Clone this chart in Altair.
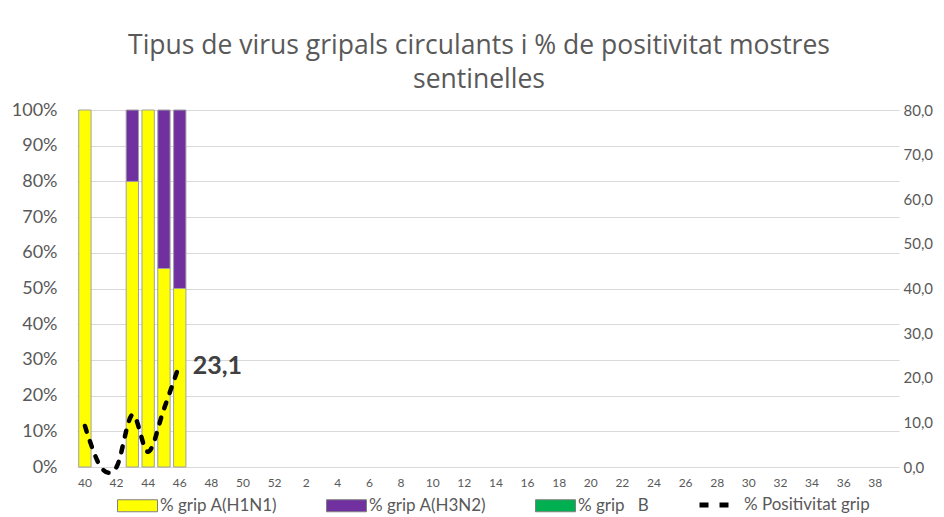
import altair as alt
import pandas as pd

weeks = ["40", "41", "42", "43", "44", "45", "46", "47", "48", "49", "50", "51", "52",
         "1", "2", "3", "4", "5", "6", "7", "8", "9", "10", "11", "12", "13", "14", "15",
         "16", "17", "18", "19", "20", "21", "22", "23", "24", "25", "26", "27", "28",
         "29", "30", "31", "32", "33", "34", "35", "36", "37", "38", "39"]
tick_weeks = ["40", "42", "44", "46", "48", "50", "52", "2", "4", "6", "8", "10", "12",
              "14", "16", "18", "20", "22", "24", "26", "28", "30", "32", "34", "36", "38"]

data_weeks = ["40", "41", "42", "43", "44", "45", "46"]
h1n1 = [100, 0, 0, 80, 100, 55.6, 50]
h3n2 = [0, 0, 0, 20, 0, 44.4, 50]
grip_b = [0, 0, 0, 0, 0, 0, 0]
positivitat = [9.2, 0, 0, 11.7, 3.4, 13.0, 23.1]

series = ["% grip A(H1N1)", "% grip A(H3N2)", "% grip\u00a0\u00a0\u00a0B"]
colors = ["#FFFF00", "#7030A0", "#00B050"]
line_name = "% Positivitat grip"
title_lines = ["Tipus de virus gripals circulants i % de positivitat mostres", "sentinelles"]

rows = []
for i, w in enumerate(data_weeks):
    for k, vals in enumerate([h1n1, h3n2, grip_b]):
        if vals[i] > 0:
            rows.append({"week": w, "serie": series[k], "value": vals[i], "ord": k})
bar_df = pd.DataFrame(rows)

line_df = pd.DataFrame({
    "week": data_weeks,
    "pos": positivitat,
    "serie": [line_name] * len(data_weeks),
    "label": [f"{v:.1f}".replace(".", ",") for v in positivitat],
})

xscale = alt.Scale(domain=weeks, paddingInner=0.22, paddingOuter=0.11)
xaxis = alt.Axis(values=tick_weeks, title=None, labelAngle=0, labelFontSize=12,
                 labelPadding=10, ticks=False, domain=False, grid=False,
                 labelColor="#595959")

bars = alt.Chart(bar_df).mark_bar(stroke="#A0A0A0", strokeWidth=1).encode(
    x=alt.X("week:N", scale=xscale, axis=xaxis),
    y=alt.Y("value:Q", stack="zero",
            scale=alt.Scale(domain=[0, 100], nice=False),
            axis=alt.Axis(values=[0, 10, 20, 30, 40, 50, 60, 70, 80, 90, 100],
                          labelExpr="datum.value + '%'", title=None, ticks=False,
                          domain=False, labelFontSize=18, labelPadding=20,
                          gridColor="#D9D9D9", labelColor="#595959")),
    fill=alt.Fill("serie:N", scale=alt.Scale(domain=series, range=colors),
                  legend=alt.Legend(orient="none", legendX=40, legendY=375,
                                    direction="horizontal", title=None,
                                    symbolType="M-1,-0.3L1,-0.3L1,0.3L-1,0.3Z",
                                    symbolSize=1600, symbolStrokeColor="#808080",
                                    symbolStrokeWidth=1, labelFontSize=17,
                                    labelColor="#595959", gridAlign="all",
                                    columnPadding=46, labelOffset=2, padding=0,
                                    labelLimit=300)),
    order=alt.Order("ord:Q"),
)

right_axis = alt.Axis(orient="right", values=[0, 10, 20, 30, 40, 50, 60, 70, 80],
                      labelExpr="replace(format(datum.value, '.1f'), '.', ',')",
                      title=None, ticks=False, domain=False, grid=False,
                      labelFontSize=15, labelPadding=4, labelColor="#595959")
yline = alt.Scale(domain=[0, 80], nice=False)

line = alt.Chart(line_df).mark_line(interpolate="cardinal", tension=0, strokeWidth=4.5,
                                    strokeDash=[6, 10], strokeCap="round").encode(
    x=alt.X("week:N", scale=xscale, axis=xaxis),
    y=alt.Y("pos:Q", scale=yline, axis=right_axis),
    stroke=alt.Stroke("serie:N", scale=alt.Scale(domain=[line_name], range=["#000000"]),
                      legend=alt.Legend(orient="none", legendX=620, legendY=375,
                                        title=None, symbolType="M-1,0L1,0",
                                        symbolSize=1225, symbolStrokeWidth=5,
                                        symbolDash=[9, 11], symbolStrokeColor="#000000",
                                        labelFontSize=17, labelColor="#595959",
                                        labelOffset=7, padding=0, labelLimit=300)),
)

text = alt.Chart(line_df).transform_filter("datum.week == '46'").mark_text(
    align="left", baseline="middle", dx=13, dy=2, fontSize=25, fontWeight="bold",
    color="#404040", font="Lato").encode(
    x=alt.X("week:N", scale=xscale, axis=xaxis),
    y=alt.Y("pos:Q", scale=yline, axis=right_axis),
    text="label:N",
)

chart = alt.layer(bars, alt.layer(line, text)).resolve_scale(
    y="independent"
).properties(
    width=822, height=357,
    title=alt.Title(title_lines, fontSize=26.5, font="Open Sans", fontWeight="normal",
                    color="#595959", anchor="middle", dx=-9, offset=8, lineHeight=34),
    autosize=alt.AutoSizeParams(type="none"),
    padding={"left": 69, "top": 102, "right": 37, "bottom": 50},
).configure(font="Lato").configure_view(stroke=None)

chart.save("out.html", embed_options={"renderer": "svg", "actions": False})
